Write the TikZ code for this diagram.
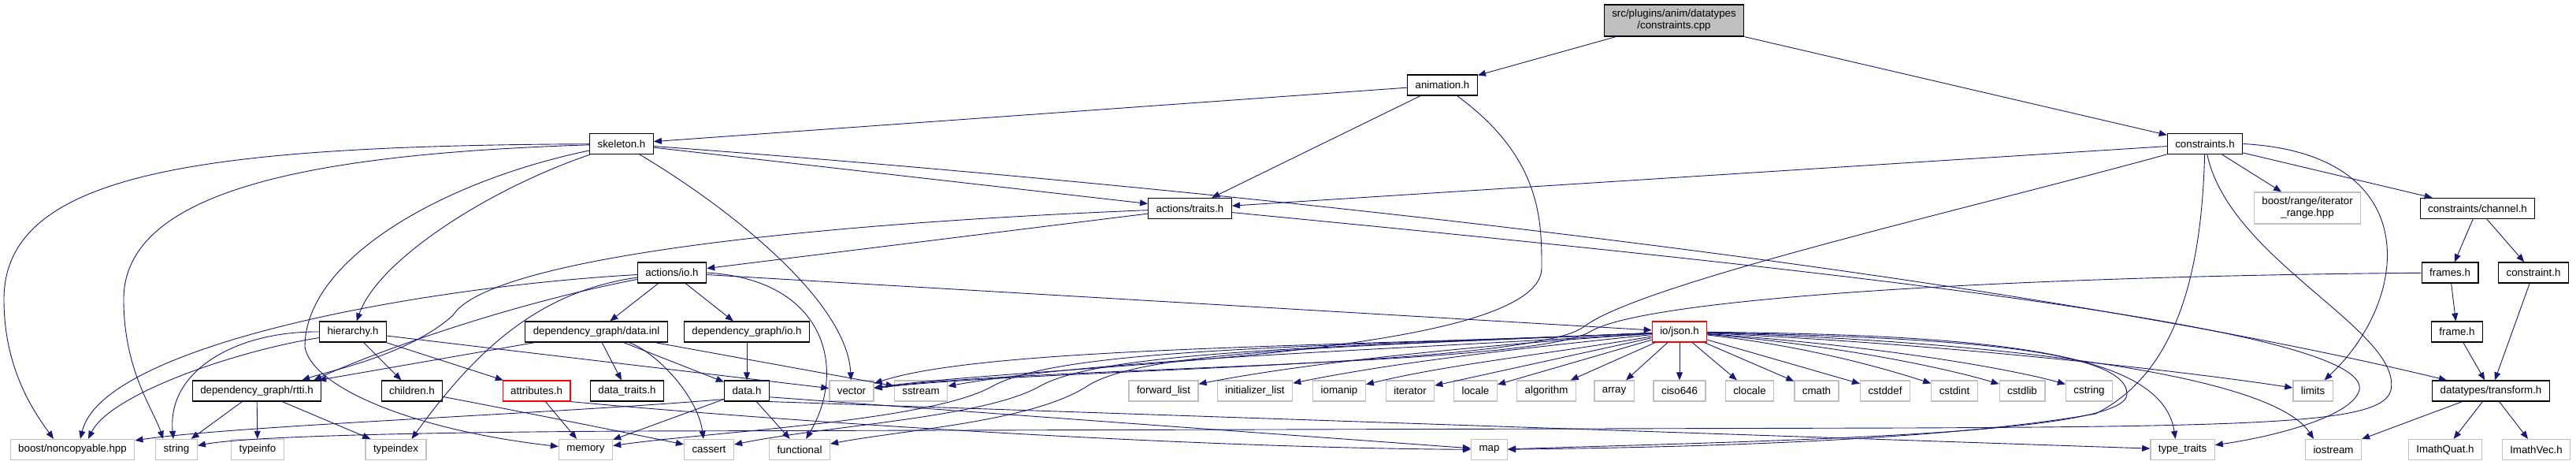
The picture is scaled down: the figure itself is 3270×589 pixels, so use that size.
\documentclass[tikz,border=0pt]{standalone}
\usepackage{fontspec}
\setmainfont{Liberation Sans}
\usetikzlibrary{arrows.meta}
\definecolor{edgeblue}{RGB}{25,25,112}
\definecolor{extgray}{RGB}{191,191,191}

\begin{document}
\begin{tikzpicture}[x=1pt,y=-1pt,
  every node/.style={font=\fontsize{13.3}{15}\selectfont,inner xsep=10pt,inner ysep=0pt,minimum height=26pt,fill=white},
  doc/.style={draw=black,line width=1.2pt},
  ext/.style={draw=extgray,line width=1.3pt},
  warn/.style={draw=red,line width=1.2pt},
  dep/.style={draw=edgeblue,line width=0.9pt,-{Triangle[length=10pt,width=8pt]}}]
\fill[white] (0,0) rectangle (3270,589);

\node[doc,fill=extgray,align=center,minimum height=40pt] (root) at (2125,26) {src/plugins/anim/datatypes\\/constraints.cpp};
\node[doc] (anim) at (1831,108) {animation.h};
\node[doc] (skel) at (789,182.5) {skeleton.h};
\node[doc] (cons) at (2799,182.5) {constraints.h};
\node[doc] (traits) at (1510.5,264.5) {actions/traits.h};
\node[ext,align=center,minimum height=40pt] (irange) at (2929,264) {boost/range/iterator\\\_range.hpp};
\node[doc] (chan) at (3145,264.5) {constraints/channel.h};
\node[doc] (aio) at (853,346) {actions/io.h};
\node[doc] (frames) at (3110,346) {frames.h};
\node[doc] (constr) at (3216,346) {constraint.h};
\node[doc] (hier) at (448,421) {hierarchy.h};
\node[doc] (dinl) at (757,421) {dependency\_graph/data.inl};
\node[doc] (dgio) at (948,421) {dependency\_graph/io.h};
\node[warn] (json) at (2132,421) {io/json.h};
\node[doc] (frame) at (3119,421) {frame.h};

\node[doc] (rtti) at (326,496) {dependency\_graph/rtti.h};
\node[doc] (child) at (523,496) {children.h};
\node[warn] (attr) at (681,496) {attributes.h};
\node[doc] (dtraits) at (796,496) {data\_traits.h};
\node[doc] (data) at (948,496) {data.h};
\node[ext] (vector) at (1081,496) {vector};
\node[ext] (sstream) at (1169,496) {sstream};
\node[ext] (fwdlist) at (1477,496) {forward\_list};
\node[ext] (initlist) at (1593,496) {initializer\_list};
\node[ext] (iomanip) at (1700,496) {iomanip};
\node[ext] (iterator) at (1790,496) {iterator};
\node[ext] (locale) at (1873,496) {locale};
\node[ext] (algorithm) at (1963,496) {algorithm};
\node[ext] (array) at (2049,496) {array};
\node[ext] (ciso) at (2132,496) {ciso646};
\node[ext] (clocale) at (2221,496) {clocale};
\node[ext] (cmath) at (2306,496) {cmath};
\node[ext] (cstddef) at (2393,496) {cstddef};
\node[ext] (cstdint) at (2481,496) {cstdint};
\node[ext] (cstdlib) at (2567,496) {cstdlib};
\node[ext] (cstring) at (2652,496) {cstring};
\node[ext] (limits) at (2936,496) {limits};
\node[doc] (xform) at (3162,496) {datatypes/transform.h};

\node[ext] (noncopy) at (92,570.5) {boost/noncopyable.hpp};
\node[ext] (string) at (224,570.5) {string};
\node[ext] (typeinfo) at (327,570.5) {typeinfo};
\node[ext] (typeindex) at (502.5,570.5) {typeindex};
\node[ext] (memory) at (743.5,570.5) {memory};
\node[ext] (cassert) at (900,570.5) {cassert};
\node[ext] (functional) at (1015,570.5) {functional};
\node[ext] (map) at (1890.5,570.5) {map};
\node[ext] (ttraits) at (2770.5,570.5) {type\_traits};
\node[ext] (iostream) at (2962,570.5) {iostream};
\node[ext] (quat) at (3104,570.5) {ImathQuat.h};
\node[ext] (vec) at (3219.5,570.5) {ImathVec.h};

\draw[dep] (root) -- (anim);
\draw[dep] (root) -- (cons);
\draw[dep] (anim) -- (skel);
\draw[dep] (anim) -- (traits);
\draw[dep] (anim) .. controls (1957,200) and (1957,280) .. (1957,340) .. controls (1957,455) and (1320,462) .. (vector);

\draw[dep] (skel) .. controls (250,185) and (5,220) .. (5,380) .. controls (5,470) and (45,525) .. ([xshift=-24pt]noncopy.north);
\draw[dep] (skel) .. controls (400,195) and (157,240) .. (157,380) .. controls (157,470) and (195,520) .. ([xshift=-17pt]string.north);
\draw[dep] (skel) .. controls (560,230) and (387,330) .. (387,440) .. controls (395,490) and (520,545) .. (memory);
\draw[dep] (skel) .. controls (620,240) and (480,330) .. (hier);
\draw[dep] (skel) .. controls (920,260) and (1075,380) .. (vector);
\draw[dep] (skel) -- (traits);
\draw[dep] (skel) .. controls (1700,250) and (2600,360) .. (xform);

\draw[dep] (cons) -- (traits);
\draw[dep] (cons) -- (irange);
\draw[dep] (cons) -- (chan);
\draw[dep] (cons) .. controls (2500,265) and (2080,360) .. (2010,415) .. controls (1940,465) and (1320,468) .. (vector);
\draw[dep] (cons.east) .. controls (3080,195) and (3060,380) .. (limits);
\draw[dep] (cons) .. controls (2795,330) and (2770,470) .. (2660,525) .. controls (2450,562) and (2100,568) .. (map);
\draw[dep] (cons) .. controls (2830,330) and (3050,420) .. (3035,495) .. controls (3025,535) and (2900,541) .. (2420,543) -- (800,547) .. controls (450,549) and (300,556) .. (string);

\draw[dep] (traits) .. controls (1000,285) and (620,330) .. (575,400) .. controls (520,450) and (420,470) .. ([xshift=-25pt]rtti.north east);
\draw[dep] (traits) -- (aio);
\draw[dep] (traits) .. controls (2400,350) and (3010,420) .. (2995,495) .. controls (2985,530) and (2880,555) .. (ttraits);

\draw[dep] (aio) -- (dinl);
\draw[dep] (aio) -- (dgio);
\draw[dep] (aio) -- (json);
\draw[dep] (aio.east) .. controls (1050,355) and (1075,470) .. (functional);
\draw[dep] (aio) .. controls (650,385) and (480,445) .. ([xshift=-10pt]rtti.north east);
\draw[dep] (aio) .. controls (680,370) and (600,450) .. ([xshift=20pt]typeindex.north);
\draw[dep] (aio) .. controls (520,365) and (130,440) .. ([xshift=10pt]noncopy.north);

\draw[dep] (hier.west) .. controls (300,420) and (212,470) .. ([xshift=-4pt]string.north);
\draw[dep] (hier.190) .. controls (300,445) and (140,500) .. ([xshift=20pt]noncopy.north);
\draw[dep] (hier) -- (child);
\draw[dep] (hier) -- (attr);
\draw[dep] (hier) -- (vector);

\draw[dep] (dinl) -- (rtti);
\draw[dep] (dinl) -- (dtraits);
\draw[dep] (dinl) -- (data);
\draw[dep] (dinl) .. controls (830,445) and (885,500) .. ([xshift=-7pt]cassert.north);
\draw[dep] (dinl) -- (sstream);
\draw[dep] (dgio) -- (data);

\draw[dep] (data.200) .. controls (700,525) and (300,540) .. (noncopy);
\draw[dep] (data) -- (memory);
\draw[dep] (data) -- (functional);
\draw[dep] (data.-15) -- (map);
\draw[dep] (data.-25) -- (ttraits);

\draw[dep] (attr) -- (memory);
\draw[dep] (attr.south east) .. controls (1000,535) and (1500,568) .. (map);
\draw[dep] (child) .. controls (650,520) and (800,550) .. (cassert);
\draw[dep] (rtti) -- (string);
\draw[dep] (rtti) -- (typeinfo);
\draw[dep] (rtti) -- (typeindex);

\draw[dep] (json) .. controls (1700,440) and (1250,440) .. (vector);
\draw[dep] (json) .. controls (1750,445) and (1400,455) .. (sstream);
\draw[dep] (json) .. controls (1850,440) and (1650,462) .. (fwdlist);
\draw[dep] (json) .. controls (1900,445) and (1760,462) .. (initlist);
\draw[dep] (json) .. controls (1960,450) and (1840,462) .. (iomanip);
\draw[dep] (json) -- (iterator);
\draw[dep] (json) -- (locale);
\draw[dep] (json) -- (algorithm);
\draw[dep] (json) -- (array);
\draw[dep] (json) -- (ciso);
\draw[dep] (json) -- (clocale);
\draw[dep] (json) -- (cmath);
\draw[dep] (json) -- (cstddef);
\draw[dep] (json) .. controls (2300,440) and (2400,470) .. (cstdint);
\draw[dep] (json) .. controls (2350,440) and (2480,470) .. (cstdlib);
\draw[dep] (json) .. controls (2400,440) and (2560,470) .. (cstring);
\draw[dep] (json) .. controls (2500,438) and (2800,475) .. (limits);
\draw[dep] (json) .. controls (2550,425) and (2745,450) .. ([xshift=-9pt]ttraits.north);
\draw[dep] (json) .. controls (2500,432) and (2880,470) .. ([xshift=-25pt]iostream.north);
\draw[dep] (json) .. controls (2450,428) and (2700,440) .. (2700,500) .. controls (2700,550) and (2300,558) .. (map);
\draw[dep] (json) .. controls (1700,440) and (1350,440) .. (1260,490) .. controls (1180,535) and (900,548) .. (memory);
\draw[dep] (json) .. controls (1700,440) and (1400,445) .. (1320,490) .. controls (1250,530) and (1050,540) .. (cassert);
\draw[dep] (json) .. controls (1700,440) and (1450,445) .. (1380,490) .. controls (1310,535) and (1150,545) .. (functional);

\draw[dep] (chan) -- (frames);
\draw[dep] (chan) -- (constr);
\draw[dep] (frames) -- (frame);
\draw[dep] (frames) .. controls (2600,350) and (2100,375) .. (2020,420) .. controls (1950,465) and (1320,465) .. (vector);
\draw[dep] (frame) -- (xform);
\draw[dep] (constr) -- (xform);
\draw[dep] (xform) -- (iostream);
\draw[dep] (xform) -- (quat);
\draw[dep] (xform) -- (vec);
\end{tikzpicture}
\end{document}
